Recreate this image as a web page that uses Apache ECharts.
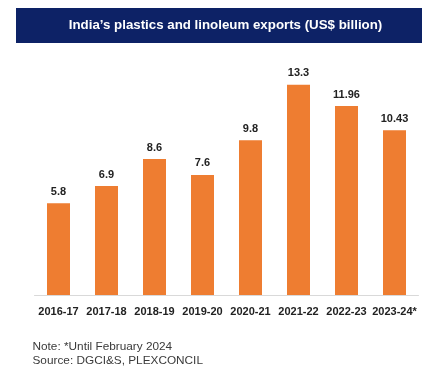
<!DOCTYPE html>
<html>
<head>
<meta charset="utf-8">
<script src="https://cdn.jsdelivr.net/npm/echarts@6/dist/echarts.min.js"></script>
<style>
  html, body { margin: 0; padding: 0; background: #ffffff; }
  #chart { width: 422px; height: 366px; }
</style>
</head>
<body>
<div id="chart"></div>
<script>
// Fiscal years and export values (US$ billion)
const years = ['2016-17', '2017-18', '2018-19', '2019-20', '2020-21', '2021-22', '2022-23', '2023-24*'];
const exportsBn = [5.8, 6.9, 8.6, 7.6, 9.8, 13.3, 11.96, 10.43];
const titleText = 'India\u2019s plastics and linoleum exports (US$ billion)';
const noteText = 'Note: *Until February 2024';
const sourceText = 'Source: DGCI&S, PLEXCONCIL';

const FONT = '"Liberation Sans", Arial, sans-serif';
const chart = echarts.init(document.getElementById('chart'), null, { renderer: 'canvas' });

chart.setOption({
  backgroundColor: '#ffffff',
  animation: false,
  graphic: [
    {
      // navy title banner
      type: 'rect',
      shape: { x: 16, y: 8, width: 406, height: 35 },
      style: { fill: '#0d2266' },
      z: 0
    },
    {
      type: 'text',
      x: 225.5, y: 25.5,
      z: 1,
      style: {
        text: titleText,
        fill: '#ffffff',
        font: 'bold 13.3px ' + FONT,
        textAlign: 'center',
        textVerticalAlign: 'middle'
      }
    },
    {
      type: 'text',
      x: 32.5, y: 340.5,
      style: { text: noteText, fill: '#3a3a3a', font: '11.8px ' + FONT }
    },
    {
      type: 'text',
      x: 32.5, y: 354.5,
      style: { text: sourceText, fill: '#3a3a3a', font: '11.8px ' + FONT }
    }
  ],
  grid: { left: 34.5, right: 3.5, top: 58, bottom: 71 },
  xAxis: {
    type: 'category',
    data: years,
    axisLine: { lineStyle: { color: '#d9d9d9', width: 1 } },
    axisTick: { show: false },
    axisLabel: {
      interval: 0,
      margin: 11,
      color: '#222222',
      fontSize: 11,
      fontWeight: 'bold',
      fontFamily: FONT
    }
  },
  yAxis: {
    type: 'value',
    min: 0,
    max: 15,
    show: false,
    splitLine: { show: false }
  },
  series: [{
    type: 'bar',
    data: exportsBn,
    barWidth: 23,
    itemStyle: { color: '#ee7d31' },
    label: {
      show: true,
      position: 'top',
      distance: 6,
      color: '#222222',
      fontSize: 11,
      fontWeight: 'bold',
      fontFamily: FONT,
      formatter: p => String(p.value)
    }
  }]
});
</script>
</body>
</html>
